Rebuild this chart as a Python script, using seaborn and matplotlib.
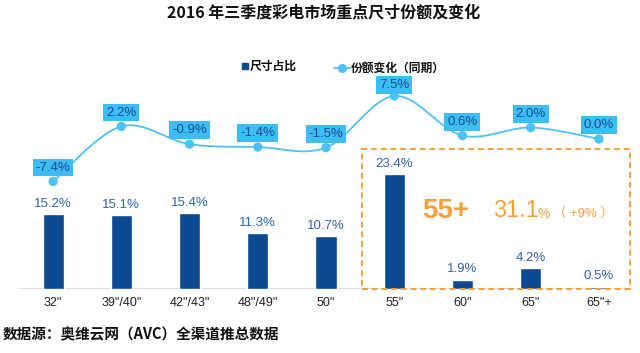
import numpy as np
import pandas as pd
import matplotlib
matplotlib.use("Agg")
import matplotlib.pyplot as plt
import seaborn as sns
from matplotlib.patches import Rectangle

# ---- data ----
categories = ['32"', '39"/40"', '42"/43"', '48"/49"', '50"', '55"', '60"', '65"', '65"+']
size_share = [15.2, 15.1, 15.4, 11.3, 10.7, 23.4, 1.9, 4.2, 0.5]
share_change = [-7.4, 2.2, -0.9, -1.4, -1.5, 7.5, 0.6, 2.0, 0.0]
title = "2016 年三季度彩电市场重点尺寸份额及变化"
source = "数据源：奥维云网（AVC）全渠道推总数据"
legend_bar = "尺寸占比"
legend_line = "份额变化（同期）"
highlight_label = "55+"
highlight_value = "31.1"
highlight_change = "（ +9% ）"

sns.set_theme(style="white")
plt.rcParams['font.family'] = ['Liberation Sans', 'Noto Sans CJK SC', 'DejaVu Sans']

BAR = "#0B4A92"
LINE = "#4CC2F7"
BOX = "#3DBDF5"
LBL = "#2F64B0"
ORANGE = "#F5A03A"

W, H = 640, 353
fig = plt.figure(figsize=(W / 100, H / 100), dpi=100)

# axes in pixel coords
ax_left, ax_w = 19, 614
ax_bottom, ax_h = 64, 226
ax = fig.add_axes([ax_left / W, ax_bottom / H, ax_w / W, ax_h / H])
ax.patch.set_alpha(0)

df = pd.DataFrame({"cat": categories, "share": size_share, "chg": share_change})
sns.barplot(data=df, x="cat", y="share", order=categories, color=BAR,
            width=0.31, saturation=1, ax=ax)
ax.set_xlim(-0.5, 8.5)
px_per_pct = 4.92
ax.set_ylim(0, ax_h / px_per_pct)
for s in ax.spines.values():
    s.set_visible(False)
ax.set_yticks([])
ax.set_xlabel("")
ax.set_ylabel("")
ax.tick_params(axis="x", length=0, pad=6, labelsize=9, labelcolor="#222222")
ax.axhline(0, color="#D9D9D9", lw=1.2, zorder=0)

for i, v in enumerate(size_share):
    ax.annotate(f"{v:.1f}%", (i, v), xytext=(0, 3), textcoords="offset points",
                ha="center", va="bottom", fontsize=9.5, color=LBL)

# highlight box
x0 = (362 - ax_left) / (ax_w / 9) - 0.5
x1 = (630 - ax_left) / (ax_w / 9) - 0.5
ax.add_patch(Rectangle((x0, 0), x1 - x0, 140 / px_per_pct, fill=False,
                       edgecolor=ORANGE, lw=1.4, ls=(0, (3, 2)), zorder=5, clip_on=False))

# line axis (twin)
ax2 = ax.twinx()
zero_from_bottom = (H - 139) - ax_bottom
lpx = 5.73
ax2.set_ylim(-zero_from_bottom / lpx, (ax_h - zero_from_bottom) / lpx)
ax2.set_yticks([])
for s in ax2.spines.values():
    s.set_visible(False)

# smooth curve through points (Catmull-Rom rendering)
xs = np.arange(len(share_change), dtype=float)
ys = np.array(share_change, dtype=float)
px, py = [], []
for i in range(len(xs) - 1):
    p0 = np.array([xs[max(i - 1, 0)], ys[max(i - 1, 0)]])
    p1 = np.array([xs[i], ys[i]])
    p2 = np.array([xs[i + 1], ys[i + 1]])
    p3 = np.array([xs[min(i + 2, len(xs) - 1)], ys[min(i + 2, len(xs) - 1)]])
    t = np.linspace(0, 1, 30)[:, None]
    pts = 0.5 * ((2 * p1) + (-p0 + p2) * t + (2 * p0 - 5 * p1 + 4 * p2 - p3) * t ** 2
                 + (-p0 + 3 * p1 - 3 * p2 + p3) * t ** 3)
    px.extend(pts[:, 0]); py.extend(pts[:, 1])
ax2.plot(px, py, color=LINE, lw=1.3, zorder=3)
sns.scatterplot(x=xs, y=ys, color=LINE, s=45, edgecolor="none", ax=ax2, zorder=4, legend=False)

vmax = max(share_change)
for i, v in enumerate(share_change):
    off = 8 if v == vmax else 10
    ax2.annotate(f"{v:.1f}%", (i, v), xytext=(0, off), textcoords="offset points",
                 ha="center", va="center", fontsize=9.5, color="#1B4A8A",
                 bbox=dict(boxstyle="square,pad=0.22", fc=BOX, ec="none"), zorder=6)

# legend (manual)
def fx(x): return x / W
def fy(y): return 1 - y / H
fig.patches.append(Rectangle((fx(242), fy(69)), 6 / W, 6 / H, transform=fig.transFigure,
                             color=BAR, figure=fig))
fig.text(fx(250), fy(66), legend_bar, fontsize=8.5, fontweight="bold", va="center",
         color="#111111", family=['Noto Sans CJK SC'])
fig.add_artist(plt.Line2D([fx(334), fx(350)], [fy(68), fy(68)], color=LINE, lw=1.3,
                          transform=fig.transFigure))
fig.add_artist(plt.Line2D([fx(342)], [fy(68)], color=LINE, marker="o", markersize=5.5,
                          transform=fig.transFigure))
fig.text(fx(351), fy(68), legend_line, fontsize=8.5, fontweight="bold", va="center",
         color="#111111", family=['Noto Sans CJK SC'])

# highlight text
fig.text(fx(446), fy(211), highlight_label, fontsize=20, fontweight="bold", color=ORANGE,
         ha="center", va="center")
fig.text(fx(493), fy(211), highlight_value, fontsize=17, color=ORANGE, ha="left", va="center")
fig.text(fx(538), fy(214), "%", fontsize=10, color=ORANGE, ha="left", va="center")
fig.text(fx(553), fy(213), highlight_change, fontsize=9.5, color=ORANGE, ha="left", va="center",
         family=['Liberation Sans', 'Noto Sans CJK SC'])

# title and source
fig.text(fx(324), fy(12), title, fontsize=11.5, fontweight="bold", ha="center", va="center",
         color="#111111", family=['Noto Sans CJK SC', 'DejaVu Sans'])
fig.text(fx(3), fy(334), source, fontsize=10.5, fontweight="bold", ha="left", va="center",
         color="#111111", family=['Noto Sans CJK SC', 'DejaVu Sans'])

fig.savefig("out.png", dpi=100)
